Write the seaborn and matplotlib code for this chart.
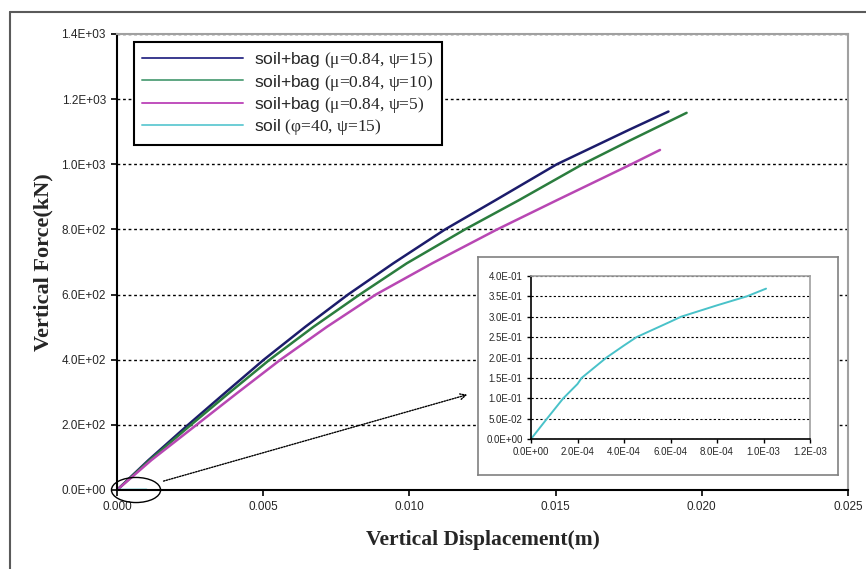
import pandas as pd
import seaborn as sns
import matplotlib.pyplot as plt
from matplotlib.patches import Ellipse
from matplotlib.ticker import FuncFormatter, MultipleLocator

# vertical displacement (m) and vertical force (kN)
bag15_x = [0, 0.00108, 0.00243, 0.00368, 0.00502, 0.00644, 0.00790, 0.00945,
           0.01122, 0.01295, 0.01504, 0.01754, 0.01886]
bag15_y = [0, 92, 200, 297, 400, 501, 600, 696, 800, 890, 1000, 1107, 1162]
bag10_x = [0, 0.00112, 0.00253, 0.00382, 0.00522, 0.00672, 0.00830, 0.00991,
           0.01190, 0.01375, 0.01592, 0.01754, 0.01948]
bag10_y = [0, 92, 200, 297, 400, 501, 600, 696, 800, 890, 1000, 1073, 1158]
bag5_x = [0, 0.00118, 0.00272, 0.00410, 0.00559, 0.00718, 0.00885, 0.01078,
          0.01300, 0.01505, 0.01754, 0.01857]
bag5_y = [0, 92, 200, 297, 400, 501, 600, 696, 800, 890, 998, 1044]

# soil only, tiny values (shown again in the zoomed inset)
soil_x = [0, 0.0000674, 0.000139, 0.000200, 0.000218, 0.000325, 0.000400,
          0.000454, 0.000600, 0.000645, 0.000800, 0.000928, 0.001011]
soil_y = [0, 0.049, 0.100, 0.135, 0.150, 0.200, 0.2295,
          0.250, 0.288, 0.300, 0.328, 0.350, 0.369]

labels = [r'soil+bag $\text{(μ=0.84, ψ=15)}$',
          r'soil+bag $\text{(μ=0.84, ψ=10)}$',
          r'soil+bag $\text{(μ=0.84, ψ=5)}$',
          r'soil $\text{(φ=40, ψ=15)}$']
colors = ['#1c1c6b', '#2b7d3e', '#b847b3', '#49c2c9']
legend_colors = ['#3a3a8e', '#5ea682', '#c050bd', '#6ccdd5']

sns.set_style('ticks')
plt.rcParams['font.family'] = ['Liberation Sans', 'DejaVu Sans']
plt.rcParams['mathtext.fontset'] = 'custom'
plt.rcParams['mathtext.rm'] = 'Liberation Serif'
plt.rcParams['mathtext.it'] = 'Liberation Serif'

W, H = 866, 569

def fig_box(x0, y0, x1, y1):
    # pixel box (top-left origin) -> figure fraction rect
    return [x0 / W, 1 - y1 / H, (x1 - x0) / W, (y1 - y0) / H]

df = pd.concat([
    pd.DataFrame({'disp': bag15_x, 'force': bag15_y, 'case': labels[0]}),
    pd.DataFrame({'disp': bag10_x, 'force': bag10_y, 'case': labels[1]}),
    pd.DataFrame({'disp': bag5_x, 'force': bag5_y, 'case': labels[2]}),
    pd.DataFrame({'disp': soil_x, 'force': soil_y, 'case': labels[3]}),
])

fig = plt.figure(figsize=(W / 100, H / 100), dpi=100)
fig.add_artist(plt.Line2D([10 / W, 1], [1 - 11.5 / H] * 2, color='#5a5a5a', lw=1.5))
fig.add_artist(plt.Line2D([10 / W] * 2, [0, 1 - 11.5 / H], color='#5a5a5a', lw=1.5))

ax = fig.add_axes(fig_box(117, 34, 848, 490))
sns.lineplot(data=df, x='disp', y='force', hue='case', hue_order=labels,
             palette=dict(zip(labels, colors)), sort=False, estimator=None,
             lw=1.8, ax=ax)

ax.set_xlim(0, 0.025)
ax.set_ylim(0, 1400)
ax.xaxis.set_major_locator(MultipleLocator(0.005))
ax.yaxis.set_major_locator(MultipleLocator(200))
ax.xaxis.set_major_formatter(FuncFormatter(lambda v, p: f'{v:.3f}'))
ax.yaxis.set_major_formatter(FuncFormatter(lambda v, p: f'{v:.1E}'))
ax.tick_params(direction='out', length=4, width=1.2, color='black',
               labelsize=8.5, pad=4)
ax.yaxis.grid(True, color='black', linestyle=(0, (2, 2)), lw=1)
ax.get_ygridlines()[-1].set_visible(False)
for s in ['left', 'bottom']:
    ax.spines[s].set_color('black')
    ax.spines[s].set_linewidth(1.5)
for s in ['top', 'right']:
    ax.spines[s].set_color('#a0a0a0')
    ax.spines[s].set_linewidth(1.5)

ax.set_xlabel('Vertical Displacement(m)', fontfamily='Liberation Serif',
              fontweight='bold', fontsize=15.5)
ax.set_ylabel('Vertical Force(kN)', fontfamily='Liberation Serif',
              fontweight='bold', fontsize=16)
ax.xaxis.set_label_coords(0.5, -0.088)
ax.yaxis.set_label_coords(-0.087, 0.5)

sns.move_legend(ax, 'upper left', bbox_to_anchor=(0.023, 0.983),
                borderaxespad=0, title=None, fontsize=12.5, frameon=True,
                fancybox=False, handlelength=5.8, handletextpad=0.65,
                labelspacing=0.12, borderpad=0.5)
leg = ax.get_legend()
leg.get_frame().set_edgecolor('black')
leg.get_frame().set_linewidth(1.5)
leg.get_frame().set_alpha(1)
for ln, c in zip(leg.get_lines(), legend_colors):
    ln.set_linewidth(1.4)
    ln.set_color(c)

# ellipse around the soil curve and the arrow pointing to the inset
ax.add_patch(Ellipse((0.00065, 0), 0.00168, 77, fill=False, ec='black',
                     lw=1, clip_on=False, zorder=5))
ax.annotate('', xy=(0.01207, 295), xytext=(0.0015, 25),
            arrowprops=dict(arrowstyle='->', ls=(0, (1, 1)), color='black', lw=1))

# inset frame and zoomed soil curve
frame = fig.add_axes(fig_box(478, 257, 838, 475))
frame.set_xticks([])
frame.set_yticks([])
for s in frame.spines.values():
    s.set_color('#808080')
    s.set_linewidth(1.2)

ins = fig.add_axes(fig_box(531, 276, 810, 439))
sns.lineplot(x=soil_x, y=soil_y, ax=ins, color=colors[3], lw=1.4,
             sort=False, estimator=None)
ins.set_xlim(0, 0.0012)
ins.set_ylim(0, 0.4)
ins.xaxis.set_major_locator(MultipleLocator(0.0002))
ins.yaxis.set_major_locator(MultipleLocator(0.05))
ins.xaxis.set_major_formatter(FuncFormatter(lambda v, p: f'{v:.1E}'))
ins.yaxis.set_major_formatter(FuncFormatter(lambda v, p: f'{v:.1E}'))
ins.tick_params(direction='out', length=3, width=1, color='black',
                labelsize=7, pad=3)
ins.yaxis.grid(True, color='black', linestyle=(0, (2, 2)), lw=0.8)
ins.get_ygridlines()[-1].set_visible(False)
for s in ['left', 'bottom']:
    ins.spines[s].set_color('black')
    ins.spines[s].set_linewidth(1.2)
for s in ['top', 'right']:
    ins.spines[s].set_color('#a0a0a0')
    ins.spines[s].set_linewidth(1.2)

fig.savefig('out.png', dpi=100)
